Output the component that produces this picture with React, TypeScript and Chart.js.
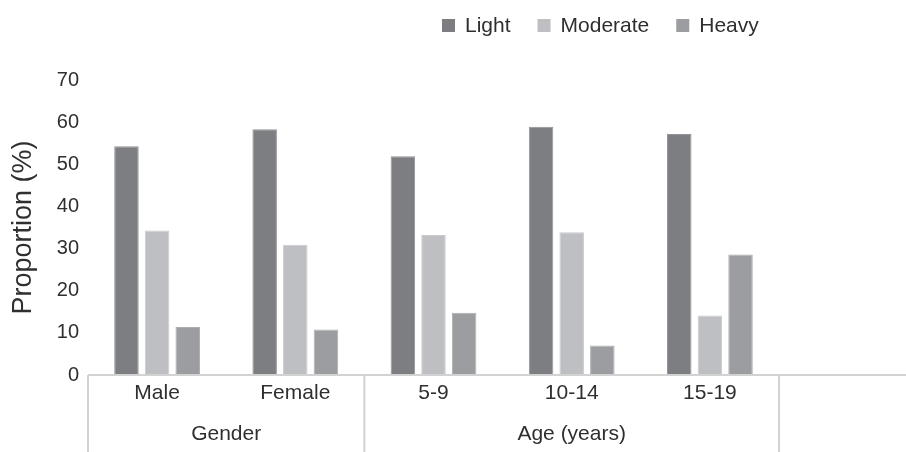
import React, { useEffect, useRef } from 'react';
import { Chart, registerables } from 'chart.js';

Chart.register(...registerables);

const categories = ['Male', 'Female', '5-9', '10-14', '15-19'];
const groupLabels = ['Gender', 'Age (years)'];
const groupSizes = [2, 3];
const seriesNames = ['Light', 'Moderate', 'Heavy'];
const lightValues = [54.3, 58.3, 51.9, 58.9, 57.2];
const moderateValues = [34.3, 30.9, 33.2, 33.9, 14.1];
const heavyValues = [11.4, 10.8, 14.8, 7.0, 28.6];
const yMin = 0;
const yMax = 70;
const yStep = 10;
const yTitle = 'Proportion (%)';

const FONT = '"Liberation Sans", Arial, Helvetica, sans-serif';
const TEXT = '#2f2f2f';
const AXIS = '#d2d2d2';
const fills = ['#7d7e82', '#bebfc2', '#9c9da1'];
const borders = ['#939498', '#cacbcd', '#adaeb1'];

const groupAxisPlugin = {
  id: 'groupAxis',
  afterDraw(chart: any) {
    const { ctx, chartArea, scales } = chart;
    const xs = scales.x;
    const y0 = scales.y.getPixelForValue(0);
    const n = categories.length;
    const edge = (i: number) =>
      i === 0
        ? chartArea.left
        : i === n
        ? chartArea.right
        : (xs.getPixelForValue(i - 1) + xs.getPixelForValue(i)) / 2;

    ctx.save();
    ctx.strokeStyle = AXIS;
    ctx.lineWidth = 2;
    ctx.beginPath();
    ctx.moveTo(chartArea.left, y0);
    ctx.lineTo(chart.width, y0);
    ctx.stroke();

    const bounds: number[] = [edge(0)];
    let idx = 0;
    ctx.fillStyle = TEXT;
    ctx.font = `21px ${FONT}`;
    ctx.textAlign = 'center';
    ctx.textBaseline = 'middle';
    groupSizes.forEach((s, g) => {
      const a = edge(idx);
      idx += s;
      const b = edge(idx);
      bounds.push(b);
      ctx.fillText(groupLabels[g], (a + b) / 2, 434);
    });
    bounds.forEach((bx) => {
      ctx.beginPath();
      ctx.moveTo(bx, y0);
      ctx.lineTo(bx, chart.height);
      ctx.stroke();
    });

    // legend
    let lx = 442;
    ctx.textAlign = 'left';
    chart.data.datasets.forEach((ds: any) => {
      ctx.fillStyle = ds.backgroundColor;
      ctx.fillRect(lx, 19, 13, 13);
      ctx.fillStyle = TEXT;
      ctx.fillText(ds.label, lx + 23, 26);
      lx += 23 + ctx.measureText(ds.label).width + 27;
    });
    ctx.restore();
  },
};

export default function App() {
  const ref = useRef<HTMLCanvasElement | null>(null);

  useEffect(() => {
    if (!ref.current) return;
    const values = [lightValues, moderateValues, heavyValues];
    const chart = new Chart(ref.current, {
      type: 'bar',
      data: {
        labels: categories,
        datasets: seriesNames.map((name, i) => ({
          label: name,
          data: values[i],
          backgroundColor: fills[i],
          borderColor: borders[i],
          borderWidth: 1,
          categoryPercentage: 0.665,
          barPercentage: 0.8,
        })),
      },
      options: {
        responsive: false,
        animation: false,
        layout: { padding: { top: 80, right: 127, left: 0, bottom: 0 } },
        plugins: {
          legend: { display: false },
          tooltip: { enabled: false },
        },
        scales: {
          x: {
            grid: { display: false, drawTicks: false },
            border: { display: false },
            ticks: {
              color: TEXT,
              font: { family: FONT, size: 21 },
              padding: 6,
              maxRotation: 0,
            },
            afterFit: (scale: any) => {
              scale.height = 77;
            },
          },
          y: {
            min: yMin,
            max: yMax,
            grid: { display: false, drawTicks: false },
            border: { display: false },
            ticks: {
              stepSize: yStep,
              color: TEXT,
              font: { family: FONT, size: 20 },
              padding: 9,
            },
            title: {
              display: true,
              text: yTitle,
              color: TEXT,
              font: { family: FONT, size: 27 },
              padding: { top: 7, bottom: 0 },
            },
            afterFit: (scale: any) => {
              scale.width = 88;
            },
          },
        },
      },
      plugins: [groupAxisPlugin],
    });
    return () => chart.destroy();
  }, []);

  return (
    <div style={{ position: 'fixed', left: 0, top: 0, width: 906, height: 452, background: '#fff' }}>
      <canvas ref={ref} width={906} height={452} style={{ display: 'block' }} />
    </div>
  );
}
